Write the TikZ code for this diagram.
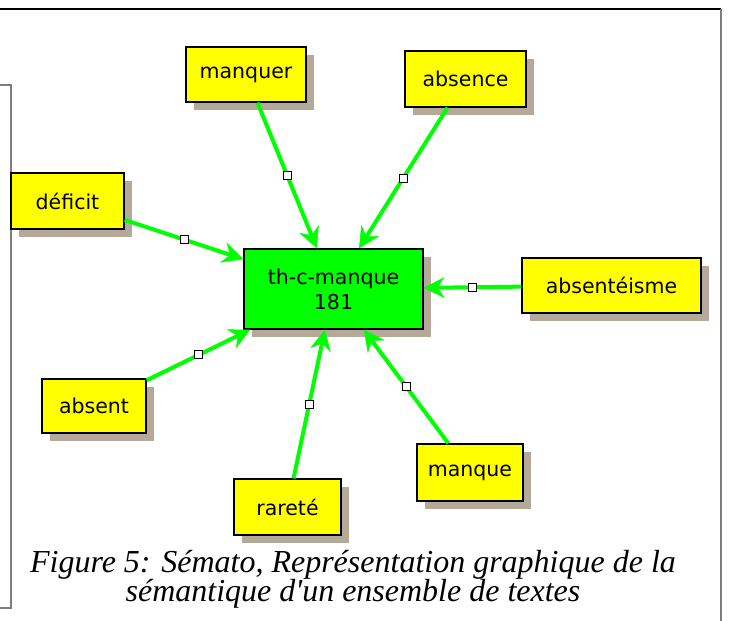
\documentclass[tikz,border=0pt]{standalone}
\usepackage{fontspec}
\setmainfont{DejaVu Sans}
\newfontfamily\capfont{Liberation Serif}
\usetikzlibrary{arrows.meta,shadows}
\definecolor{termyellow}{RGB}{255,255,0}
\definecolor{hubgreen}{RGB}{0,255,0}
\definecolor{shade}{RGB}{181,170,153}
\definecolor{framegrey}{RGB}{125,125,125}

\begin{document}
\begin{tikzpicture}[x=1pt,y=-1pt,
  term/.style={draw=black, line width=1.3pt, fill=termyellow, inner sep=0pt,
    minimum height=55pt, text=black, font=\fontsize{20.5}{20.5}\selectfont,
    drop shadow={shadow xshift=8pt, shadow yshift=-8pt, fill=shade, opacity=1}},
  hub/.style={term, fill=hubgreen, align=center, font=\fontsize{20.5}{25}\selectfont},
  link/.style={draw=hubgreen, line width=4pt,
    -{Stealth[length=21pt, width=21pt, inset=7pt, line width=0.5pt]}},
  knot/.style={draw=black, fill=white, line width=1pt, inner sep=0pt, minimum size=8pt},
  caption/.style={anchor=base, text=black, font=\capfont\itshape\fontsize{32}{32}\selectfont},
]
\useasboundingbox (0,0) rectangle (729,621);

% page frame
\draw[black, line width=1.3pt] (0,9) -- (721,9);
\draw[framegrey, line width=1.5pt] (721,9) -- (721,621);
\draw[framegrey, line width=1.3pt] (0,85) -- (11,85) -- (11,608) -- (0,608);

% central term
\node[hub, minimum width=179pt, minimum height=80pt] (hub) at (333.5,289) {th-c-manque\\181};

% related terms
\node[term, minimum width=120pt] (manquer) at (246,74.5) {manquer};
\node[term, minimum width=121pt, minimum height=56pt] (absence) at (465.5,79) {absence};
\node[term, minimum width=113pt, minimum height=56pt] (deficit) at (67.5,201) {déficit};
\node[term, minimum width=179pt] (absenteisme) at (611.5,285.5) {absentéisme};
\node[term, minimum width=104pt, minimum height=54pt] (absent) at (94,406) {absent};
\node[term, minimum width=106pt, minimum height=57pt] (manque) at (470,472.5) {manque};
\node[term, minimum width=107pt, minimum height=56pt] (rarete) at (287.5,507) {rareté};

% links towards the central term
\draw[link] (manquer) -- node[knot] (k1) {} (hub);
\draw[link] (absence) -- node[knot] (k2) {} (hub);
\draw[link] (deficit) -- node[knot] (k3) {} (hub);
\draw[link] (absenteisme) -- node[knot] (k4) {} (hub);
\draw[link] (absent) -- node[knot] (k5) {} (hub);
\draw[link] (manque) -- node[knot] (k6) {} (hub);
\draw[link] (rarete) -- node[knot] (k7) {} (hub);

% caption
\node[caption] (cap1) at (353,572) {Figure 5: Sémato, Représentation graphique de la};
\node[caption] (cap2) at (353,601) {sémantique d'un ensemble de textes};
\end{tikzpicture}
\end{document}
